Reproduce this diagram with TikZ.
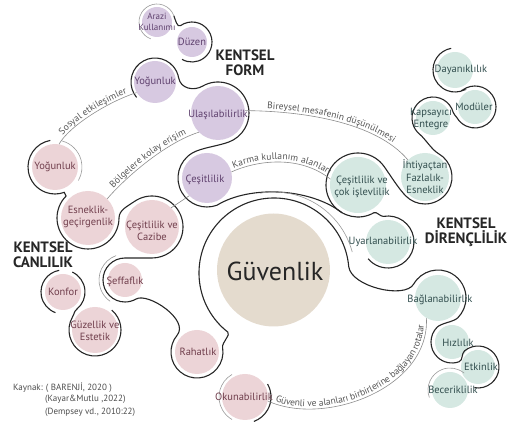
\documentclass[tikz,border=0pt]{standalone}
\usepackage{fontspec}
\setmainfont{PT Sans}
\usetikzlibrary{calc, decorations.text}
\definecolor{purplefill}{RGB}{215,201,225}
\definecolor{pinkfill}{RGB}{236,212,215}
\definecolor{greenfill}{RGB}{213,232,226}
\definecolor{beigefill}{RGB}{228,219,206}
\definecolor{purpletext}{RGB}{95,65,110}
\definecolor{pinktext}{RGB}{112,62,76}
\definecolor{greentext}{RGB}{50,78,78}
\definecolor{lblgray}{RGB}{85,85,85}
\newcommand{\clbl}{\fontsize{10.5}{12.5}\selectfont}
\newcommand{\slbl}{\fontsize{9}{10}\selectfont}
\newcommand{\connlbl}{\fontsize{9.5}{10.5}\selectfont}
\newcommand{\headlbl}{\fontsize{15}{15.5}\selectfont\bfseries}
\tikzset{
	bubble/.style={circle, inner sep=0pt, draw=none},
	purpbub/.style={bubble, fill=purplefill},
	pinkbub/.style={bubble, fill=pinkfill},
	greenbub/.style={bubble, fill=greenfill},
	ptext/.style={text=purpletext, font=\clbl, align=center, inner sep=0pt},
	ktext/.style={text=pinktext, font=\clbl, align=center, inner sep=0pt},
	gtext/.style={text=greentext, font=\clbl, align=center, inner sep=0pt},
	head/.style={text=black!85, font=\headlbl, align=center, inner sep=0pt}
}

\begin{document}
\begin{tikzpicture}[
    x=1pt, y=1pt,
    % black outline round the bubbles
    ol/.style={draw=black!85, line width=1.1pt},
    % thin grey outline
    olg/.style={draw=black!40, line width=0.6pt},
    % labelled connectors
    link/.style={draw=black!45, line width=0.6pt},
    along/.style={postaction={decorate, decoration={text along path,
        text={|\connlbl|#1}, text color=lblgray, text align=center, raise=2.5pt}}}
]
\useasboundingbox (0,0) rectangle (507,423);

% --- CENTRE ---
\node[bubble, fill=beigefill, minimum size=113pt] (guven) at (273.5,153) {};
\coordinate (ringc) at (274,150);

% --- KENTSEL FORM (purple) ---
\node[purpbub, minimum size=30pt] (arazi) at (157,401) {};
\node[purpbub, minimum size=30pt] (duzen) at (192,381) {};
\node[purpbub, minimum size=42pt] (yogP) at (155,341) {};
\node[purpbub, minimum size=54pt] (ulas) at (218,310) {};
\node[purpbub, minimum size=50pt] (cesP) at (207,245) {};

% --- KENTSEL CANLILIK (pink) ---
\node[pinkbub, minimum size=46pt] (yogC) at (55,256) {};
\node[pinkbub, minimum size=54pt] (esnek) at (88,205) {};
\node[pinkbub, minimum size=54pt] (cazibe) at (152,196) {};
\node[pinkbub, minimum size=36pt] (konfor) at (63,131) {};
\node[pinkbub, minimum size=46pt] (guzel) at (95,93) {};
\node[pinkbub, minimum size=34pt] (seff) at (125,143) {};
\node[pinkbub, minimum size=44pt] (rahat) at (197,71) {};
\node[pinkbub, minimum size=46pt] (okuna) at (245,26) {};

% --- KENTSEL DIRENCLILIK (green) ---
\node[greenbub, minimum size=36pt] (dayan) at (455,353) {};
\node[greenbub, minimum size=34pt] (modul) at (475,316) {};
\node[greenbub, minimum size=34pt] (kapsa) at (433,305) {};
\node[greenbub, minimum size=48pt] (ihti) at (425,246) {};
\node[greenbub, minimum size=56pt] (cescok) at (358,238) {};
\node[greenbub, minimum size=44pt] (uyar) at (388,181) {};
\node[greenbub, minimum size=46pt] (bagla) at (438,125) {};
\node[greenbub, minimum size=34pt] (hizli) at (452,81) {};
\node[greenbub, minimum size=34pt] (etkin) at (478,56) {};
\node[greenbub, minimum size=36pt] (becer) at (450,33) {};

% --- OUTLINES ---
% arazi / duzen
\draw[olg] ($(arazi.center)+(250:18)$) arc[start angle=250, end angle=20, radius=18];
\draw[ol] ($(arazi.center)+(20:18)$) .. controls (175.3,403.4) and (177.2,395.1) ..
    ($(duzen.center)+(125:20)$) arc[start angle=125, end angle=-120, radius=20];
% purple chain, running on over the centre
\draw[ol] ($(yogP.center)+(220:24)$) arc[start angle=220, end angle=10, radius=24]
    .. controls (180.6,334.2) and (193.8,331.8) .. ($(ulas.center)+(120:31)$)
    arc[start angle=120, end angle=-70, radius=31]
    .. controls (217.3,276.8) and (201.2,275.1) .. ($(cesP.center)+(120:29)$)
    arc[start angle=120, end angle=290, radius=29]
    .. controls (250,238) and (310,235) .. ($(cescok.center)+(240:32)$);
% green chain
\draw[ol] ($(dayan.center)+(100:22)$) arc[start angle=100, end angle=295, radius=22]
    -- ($(modul.center)+(125:21)$) arc[start angle=125, end angle=-150, radius=21]
    .. controls (455.8,307.2) and (453.8,308.5) .. ($(kapsa.center)+(15:21)$)
    arc[start angle=15, end angle=230, radius=21]
    .. controls (425.6,283.8) and (431.6,273.4) .. ($(ihti.center)+(60:27)$)
    arc[start angle=60, end angle=-135, radius=27]
    .. controls (398.8,234) and (390,248.2) .. ($(cescok.center)+(35:32)$)
    arc[start angle=35, end angle=300, radius=32]
    .. controls (376.6,211.8) and (380.5,206.1) .. ($(uyar.center)+(100:26)$)
    arc[start angle=100, end angle=-140, radius=26];
% pink chain, ring round the centre, green chain below
\draw[ol] ($(yogC.center)+(100:27)$) arc[start angle=100, end angle=290, radius=27]
    -- ($(esnek.center)+(135:31)$) arc[start angle=135, end angle=360, radius=31]
    .. controls (119,213) and (127.6,216.8) .. ($(cazibe.center)+(125:31)$)
    arc[start angle=125, end angle=-90, radius=31]
    -- ($(seff.center)+(90:22)$) arc[start angle=90, end angle=300, radius=22]
    .. controls (148,131) and (189.9,103) .. ($(rahat.center)+(140:26)$)
    arc[start angle=140, end angle=370, radius=26]
    .. controls (221.7,80.4) and (231,88.4) .. ($(ringc)+(232:75)$)
    arc[start angle=232, end angle=5, radius=75]
    .. controls (350.7,136.5) and (404.8,123.4) .. ($(bagla.center)+(150:28)$)
    arc[start angle=150, end angle=-45, radius=28]
    .. controls (453.6,101) and (441.4,100) .. ($(hizli.center)+(135:21)$)
    arc[start angle=135, end angle=290, radius=21]
    .. controls (463,62.7) and (461.4,69.5) .. ($(etkin.center)+(130:21)$)
    arc[start angle=130, end angle=-100, radius=21];
% konfor / guzellik
\draw[ol] ($(konfor.center)+(100:22)$) arc[start angle=100, end angle=250, radius=22];
\draw[ol] ($(konfor.center)+(65:22)$) arc[start angle=65, end angle=-50, radius=22]
    .. controls (74,111.5) and (74.5,109.5) .. ($(guzel.center)+(150:26)$)
    arc[start angle=150, end angle=410, radius=26];
% single bubbles and grey lines
\draw[olg] ($(becer.center)+(200:22)$) arc[start angle=200, end angle=50, radius=22];
\draw[ol] ($(okuna.center)+(30:26)$) arc[start angle=30, end angle=-70, radius=26];
\draw[olg] ($(okuna.center)+(120:26)$) arc[start angle=120, end angle=240, radius=26];
\draw[olg] ($(yogC.center)+(75:27)$) arc[start angle=75, end angle=-30, radius=27];
\draw[olg] ($(seff.center)+(110:26)$) arc[start angle=110, end angle=235, radius=26];
\draw[olg] ($(ringc)+(100:81)$) arc[start angle=100, end angle=15, radius=81];

% --- CONNECTORS ---
\draw[link, along={Sosyal etkileşimler}] (yogC.80) .. controls (70,298) and (110,322) .. (yogP.210);
\draw[link, along={Bölgelere kolay erişim}] (esnek.45) .. controls (125,245) and (165,280) .. (ulas.225);
\draw[link, along={Bireysel mesafenin düşünülmesi}] (ulas.5) .. controls (300,312) and (375,302) .. (ihti.135);
\draw[link, along={Karma kullanım alanları}] (cesP.14) .. controls (258,263) and (300,268) .. (cescok.168);
\draw[link, along={Güvenli ve alanları birbirlerine bağlayan rotalar}] (okuna.-10) .. controls (325,-4) and (430,35) .. (bagla.240);
\draw[link] (cazibe.45) -- (cesP.225);

% --- TEXTS ---
\node[text=black!85, inner sep=0pt] (guven-t) at (275,152) {\fontsize{26}{28}\selectfont Güvenlik};
\node[head] (form-t) at (245,360) {KENTSEL\\FORM};
\node[head] (canli-t) at (43,168) {KENTSEL\\CANLILIK};
\node[head] (diren-t) at (466,191) {KENTSEL\\DİRENÇLİLİK};

\node[ptext, font=\fontsize{9}{10.5}\selectfont] (arazi-t) at (157,401) {Arazi\\Kullanımı};
\node[ptext] (duzen-t) at (192,381) {Düzen};
\node[ptext] (yogP-t) at (155,341) {Yoğunluk};
\node[ptext] (ulas-t) at (218,308) {Ulaşılabilirlik};
\node[ptext] (cesP-t) at (205,243) {Çeşitlilik};

\node[ktext] (yogC-t) at (55,256) {Yoğunluk};
\node[ktext] (esnek-t) at (88,206) {Esneklik-\\geçirgenlik};
\node[ktext] (cazibe-t) at (152,192) {Çeşitlilik ve\\Cazibe};
\node[ktext] (konfor-t) at (63,131) {Konfor};
\node[ktext] (guzel-t) at (95,92) {Güzellik ve\\Estetik};
\node[ktext] (seff-t) at (125,141) {Şeffaflık};
\node[ktext] (rahat-t) at (198,71) {Rahatlık};
\node[ktext] (okuna-t) at (244,26) {Okunabilirlik};

\node[gtext] (dayan-t) at (461,353) {Dayanıklılık};
\node[gtext] (modul-t) at (474,316) {Modüler};
\node[gtext] (kapsa-t) at (431,304) {Kapsayıcı\\Entegre};
\node[gtext] (ihti-t) at (425,246) {İhtiyaçtan\\Fazlalık-\\Esneklik};
\node[gtext] (cescok-t) at (362,236) {Çeşitlilik ve\\çok işlevlilik};
\node[gtext] (uyar-t) at (383,181) {Uyarlanabilirlik};
\node[gtext] (bagla-t) at (440,123) {Bağlanabilirlik};
\node[gtext] (hizli-t) at (458,80) {Hızlılık};
\node[gtext] (etkin-t) at (481,56) {Etkinlik};
\node[gtext] (becer-t) at (453,33) {Beceriklilik};

% --- SOURCE ---
\node[anchor=west, text=black!70, font=\slbl, inner sep=0pt] (src1) at (13,35) {Kaynak: ( BARENJİ, 2020 )};
\node[anchor=west, text=black!70, font=\slbl, inner sep=0pt] (src2) at (45,24) {(Kayar\&Mutlu ,2022)};
\node[anchor=west, text=black!70, font=\slbl, inner sep=0pt] (src3) at (45,11) {(Dempsey vd., 2010:22)};
\end{tikzpicture}
\end{document}
